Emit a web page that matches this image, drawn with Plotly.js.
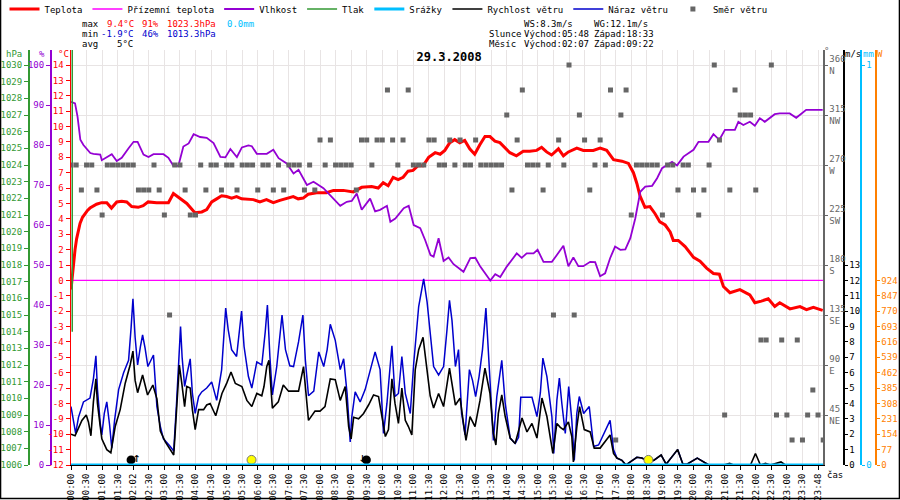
<!DOCTYPE html>
<html>
<head>
<meta charset="utf-8">
<script src="https://cdn.plot.ly/plotly-3.0.1.min.js"></script>
<style>
body { margin: 0; background: #fff; }
#graph-div { width: 900px; height: 500px; }
</style>
</head>
<body>
<div id="graph-div"></div>
<script>
// all times are hours from midnight on the chart scale
var tempTime = [0,0.04,0.08,0.13,0.18,0.24,0.29,0.37,0.45,0.53,0.61,0.72,0.82,0.98,1.15,1.3,1.47,1.63,1.79,1.95,2.16,2.32,2.48,2.75,3.13,3.29,3.45,3.72,3.98,4.2,4.36,4.52,4.68,4.84,5.0,5.16,5.32,5.48,5.86,6.07,6.28,6.5,6.71,6.93,7.14,7.3,7.46,7.62,7.89,8.21,8.43,8.75,9.07,9.34,9.66,9.87,10.03,10.19,10.35,10.51,10.67,10.83,10.99,11.15,11.31,11.49,11.7,11.86,12.01,12.17,12.33,12.49,12.65,12.81,12.97,13.13,13.3,13.46,13.62,13.78,13.94,14.1,14.31,14.53,14.74,14.96,15.12,15.28,15.44,15.66,15.82,15.98,16.25,16.46,16.78,17.0,17.21,17.43,17.7,17.91,18.07,18.18,18.28,18.44,18.6,18.76,18.92,19.09,19.25,19.35,19.51,19.73,20.0,20.21,20.42,20.64,20.83,20.96,21.17,21.49,21.81,21.97,22.18,22.4,22.61,22.77,23.1,23.42,23.63,23.85,24.15];
var temp = [-0.6,0.3,0.9,2.0,2.7,3.3,3.7,4.1,4.35,4.55,4.7,4.85,4.95,5.05,5.05,4.7,5.1,5.15,5.1,4.8,4.75,4.85,5.1,5.05,5.05,5.65,5.4,5.0,4.4,4.45,4.6,5.1,5.3,5.5,5.45,5.35,5.45,5.3,5.25,5.1,5.25,5.05,5.2,5.35,5.45,5.3,5.35,5.6,5.7,5.7,5.85,5.85,5.75,6.05,6.1,6.0,6.35,6.15,6.7,6.55,6.7,7.1,7.15,7.45,7.45,8.0,8.3,8.2,8.45,8.95,9.15,8.95,9.1,8.55,8.2,8.8,9.35,9.35,9.05,8.95,8.6,8.3,8.1,8.4,8.4,8.45,8.65,8.35,8.15,8.55,8.1,8.35,8.6,8.45,8.45,8.6,8.45,7.85,7.75,7.6,7.0,6.3,5.5,4.75,4.8,4.35,3.8,3.6,3.15,2.6,2.6,2.2,1.5,1.25,0.8,0.45,0.4,-0.4,-0.8,-0.6,-0.95,-1.45,-1.35,-1.2,-1.7,-1.45,-1.85,-1.7,-1.9,-1.75,-1.95];

var humTime = [0,0.13,0.21,0.3,0.4,0.62,0.72,0.94,0.99,1.31,1.47,1.63,1.85,2.01,2.14,2.33,2.49,2.65,2.97,3.13,3.29,3.45,3.61,3.78,3.94,4.15,4.36,4.58,4.8,4.96,5.12,5.33,5.49,5.7,5.81,5.97,6.29,6.5,6.67,6.93,7.15,7.31,7.58,7.79,8.11,8.33,8.65,8.86,9.02,9.18,9.34,9.61,9.77,9.93,10.15,10.26,10.42,10.69,10.85,11.01,11.22,11.38,11.55,11.65,11.81,11.97,12.13,12.29,12.61,12.83,12.99,13.15,13.47,13.63,13.79,14.0,14.32,14.48,14.64,14.86,14.99,15.18,15.45,15.61,15.82,15.98,16.14,16.3,16.46,16.68,16.84,17.0,17.16,17.32,17.48,17.65,17.81,17.97,18.13,18.29,18.45,18.67,18.83,18.99,19.2,19.31,19.47,19.68,20.0,20.16,20.48,20.64,20.83,21.01,21.33,21.44,21.6,21.81,21.97,22.13,22.29,22.61,22.77,23.09,23.3,23.62,24.15];
var hum = [90.8,90.4,87.1,81.3,80.0,78.0,77.8,77.6,76.2,77.7,76.0,76.8,79.2,80.8,80.8,77.6,77.0,77.7,77.7,76.8,74.8,74.8,79.6,80.4,82.7,82.0,81.8,80.5,77.0,76.9,79.0,77.0,79.4,79.9,79.7,77.8,77.8,78.8,76.7,75.4,72.9,73.8,70.0,70.8,69.2,67.5,64.8,65.8,66.0,67.9,63.8,66.6,63.4,63.8,64.8,60.8,61.6,64.2,64.8,60.0,59.2,56.2,52.5,52.1,56.7,51.0,51.9,50.2,48.3,51.7,51.8,49.6,46.1,47.7,47.0,49.6,52.9,51.8,52.9,52.9,53.8,50.8,50.8,52.5,54.8,49.7,51.9,49.7,49.7,50.8,50.7,47.2,47.9,51.7,54.6,53.8,53.9,56.7,61.7,68.3,69.6,69.8,71.7,74.2,75.4,75.8,74.9,77.1,78.8,80.8,80.8,82.7,81.3,83.8,83.8,85.8,85.0,85.8,84.8,86.7,85.8,87.7,87.9,87.9,86.8,88.8,88.8];

var pressTime = [0.04,0.04];
var press = [1032,1014];

var groundTime = [0,24.16];
var groundTemp = [0,0];
var rainTime = [0,24.16];
var rain = [0,0];

var windTime = [0,0.13,0.24,0.35,0.49,0.56,0.64,0.72,0.8,0.85,0.94,0.99,1.15,1.28,1.42,1.58,1.74,1.9,1.99,2.06,2.14,2.3,2.46,2.63,2.76,2.87,3.03,3.19,3.3,3.35,3.4,3.48,3.56,3.65,3.72,3.83,3.9,3.99,4.1,4.26,4.36,4.47,4.65,4.85,5.0,5.14,5.28,5.49,5.65,5.81,5.97,6.13,6.2,6.29,6.36,6.47,6.66,6.82,6.99,7.15,7.31,7.47,7.63,7.84,8.0,8.16,8.33,8.49,8.65,8.81,8.92,9.0,9.08,9.24,9.4,9.56,9.72,9.88,9.99,10.1,10.2,10.31,10.41,10.52,10.63,10.74,10.84,10.95,11.06,11.17,11.31,11.44,11.54,11.65,11.81,11.97,12.08,12.16,12.35,12.5,12.61,12.69,12.82,12.98,13.14,13.3,13.46,13.57,13.65,13.73,13.84,13.95,14.11,14.27,14.49,14.65,14.81,14.97,15.13,15.29,15.48,15.61,15.72,15.82,15.98,16.09,16.14,16.25,16.34,16.49,16.68,16.81,17.0,17.16,17.32,17.43,17.54,17.7,17.83,17.97,18.18,18.34,18.5,18.72,18.96,19.12,19.3,19.49,19.66,19.79,20.12,20.33,20.49,20.97,21.16,21.29,21.83,21.99,22.15,22.31,22.47,22.81,22.95,24.15];
var wind = [2.0,1.9,2.4,2.9,3.25,2.8,1.9,4.1,5.6,4.0,2.5,1.7,1.0,0.8,2.5,3.6,5.3,6.5,7.4,5.5,4.7,5.85,4.55,5.2,4.3,2.2,1.5,1.0,0.65,2.2,4.0,6.5,5.3,3.8,5.1,5.0,3.6,2.3,3.6,3.6,3.9,4.0,3.2,4.65,5.3,6.05,5.3,5.1,4.2,3.8,4.65,4.5,5.1,6.4,6.8,3.7,4.1,5.2,4.8,4.8,4.8,6.4,2.9,3.5,3.5,3.8,5.6,5.55,4.2,5.1,2.5,1.7,3.1,3.0,3.35,3.9,4.55,4.45,3.15,1.85,2.3,5.6,4.0,2.7,5.0,2.9,2.5,1.95,6.2,7.5,8.3,6.3,4.5,3.7,4.65,3.8,5.1,6.3,3.9,4.35,2.7,1.6,3.15,2.5,4.2,6.3,4.65,2.05,1.3,3.35,4.55,3.15,1.75,1.4,3.05,2.15,2.7,1.75,4.35,3.15,0.75,2.7,2.45,2.3,2.8,1.85,0.2,2.45,3.8,2.3,2.15,1.1,1.1,1.5,1.95,0.75,0.45,0.3,0.0,0.2,0.5,0.45,0.3,0.3,0.65,0.05,0.55,1.0,0.05,0.05,0.45,0.2,0.0,0.0,0.1,0.0,0.0,0.75,0.0,0.1,0.0,0.2,0.0,0.0];

var gustTime = [0,0.07,0.15,0.24,0.4,0.61,0.72,0.8,0.85,0.94,0.99,1.07,1.15,1.24,1.31,1.4,1.53,1.69,1.85,1.93,1.99,2.06,2.14,2.23,2.3,2.38,2.47,2.65,2.76,2.87,2.97,3.19,3.3,3.39,3.47,3.52,3.57,3.65,3.72,3.83,3.9,3.99,4.1,4.2,4.36,4.52,4.68,4.84,4.97,5.05,5.16,5.32,5.48,5.56,5.7,5.81,5.97,6.13,6.24,6.31,6.39,6.47,6.61,6.78,6.89,7.03,7.15,7.31,7.45,7.53,7.63,7.8,7.96,8.12,8.23,8.33,8.49,8.65,8.76,8.87,8.97,9.02,9.13,9.29,9.45,9.61,9.77,9.93,10.04,10.15,10.31,10.41,10.52,10.63,10.74,10.9,11.01,11.17,11.33,11.44,11.54,11.65,11.81,11.97,12.08,12.16,12.24,12.35,12.45,12.55,12.66,12.8,12.9,13.0,13.11,13.22,13.33,13.43,13.57,13.68,13.84,13.95,14.11,14.27,14.38,14.45,14.81,14.97,15.08,15.16,15.29,15.45,15.51,15.61,15.69,15.77,15.88,15.99,16.09,16.17,16.25,16.33,16.47,16.65,16.79,16.95,17.16,17.32,17.43,17.54,17.7,17.83,17.97,18.18,18.34,18.5,18.72,18.96,19.12,19.3,19.49,19.66,19.79,20.12,20.33,20.49,24.15];
var gust = [3.8,2.9,2.05,3.1,4.1,4.35,5.6,7.1,4.9,2.7,1.95,3.35,4.1,2.6,1.1,2.9,4.9,6.0,6.8,8.9,10.8,8.3,6.5,7.7,8.45,7.6,6.4,7.15,3.8,2.5,1.7,1.2,0.9,4.0,7.15,9.0,7.0,5.1,5.85,6.9,4.65,3.35,4.45,4.75,5.0,5.4,4.2,6.2,10.2,8.8,7.5,7.05,10.0,7.7,5.75,5.0,6.7,6.5,8.65,10.4,7.05,4.55,6.4,9.75,7.5,6.45,6.4,8.0,9.75,6.8,4.5,4.8,7.35,6.4,7.5,9.15,8.1,6.2,6.9,4.65,1.5,3.1,4.75,4.1,4.9,6.2,7.35,6.2,2.05,4.0,7.75,4.45,4.65,7.05,4.65,3.35,6.6,10.3,12.1,10.6,8.35,6.4,5.85,6.4,8.8,10.7,9.4,6.4,7.5,3.35,1.95,6.2,5.5,4.45,5.75,7.5,10.2,6.6,1.6,4.45,6.8,4.0,1.75,1.4,1.8,4.4,4.4,3.15,4.7,6.95,5.75,3.15,0.75,4.2,5.65,4.0,2.05,5.1,2.9,0.3,3.35,4.45,3.35,3.8,1.2,1.3,2.15,2.9,1.0,0.45,0.3,0.0,0.2,0.5,0.45,0.3,0.3,0.65,0.05,0.55,1.0,0.05,0.05,0.45,0.2,0.0,0.0];

// wind direction, one reading every 10 minutes
var dirMinutes = [0,10,20,30,40,50,60,70,80,90,100,110,120,130,140,150,160,170,180,190,200,210,220,230,240,250,260,270,280,290,300,310,320,330,340,350,360,370,380,390,400,410,420,430,440,450,460,470,480,490,500,510,520,530,540,550,560,570,580,590,600,610,620,630,640,650,660,670,680,690,700,710,720,730,740,750,760,770,780,790,800,810,820,830,840,850,860,870,880,890,900,910,920,930,940,950,960,970,980,990,1000,1010,1020,1030,1040,1050,1060,1070,1080,1090,1100,1110,1120,1130,1140,1150,1160,1170,1180,1190,1200,1210,1220,1230,1240,1250,1260,1270,1280,1290,1300,1310,1320,1330,1340,1350,1360,1370,1380,1390,1400,1410,1420,1430,1440,1450];
var windDir = [270,270,247.5,270,270,247.5,225,270,270,270,
  270,270,270,247.5,247.5,247.5,270,247.5,225,135,
  270,270,247.5,225,225,270,247.5,270,270,247.5,
  270,270,247.5,270,270,270,247.5,270,270,247.5,
  270,247.5,270,270,270,247.5,270,247.5,292.5,270,
  292.5,270,270,270,270,247.5,292.5,292.5,270,292.5,
  292.5,337.5,292.5,270,292.5,337.5,270,270,270,292.5,
  292.5,270,270,292.5,270,292.5,270,270,292.5,270,
  270,270,270,270,315,247.5,292.5,337.5,270,270,
  270,247.5,270,135,292.5,270,360,135,315,292.5,
  247.5,270,292.5,270,337.5,22.5,315,337.5,225,270,
  270,270,270,270,225,270,270,247.5,270,270,
  247.5,225,247.5,270,360,292.5,45,247.5,337.5,315,
  315,315,247.5,112.5,112.5,360,45,112.5,45,22.5,
  112.5,22.5,45,67.5,45,22.5];

// no solar radiation readings on this day
var radTime = [];
var rad = [];

var sunTime = [5.8, 18.55];
var moonDotTime = [1.93, 9.49];
var moonArrowTime = [2.117, 9.367];
var moonArrows = ["↑", "↓"];

var timeLabels = ["00:00","00:30","01:00","01:30","02:02","02:30","03:00","03:30","04:00","04:30","05:00","05:30","06:00","06:30","07:00","07:30","08:00","08:30","09:00","09:30","10:00","10:30","11:00","11:30","12:00","12:30","13:00","13:30","14:00","14:30","15:00","15:30","16:00","16:30","17:00","17:30","18:00","18:30","19:00","19:30","20:00","20:30","21:00","21:30","22:00","22:30","23:00","23:30","23:48"];
var tempTicks = [-12,-11,-10,-9,-8,-7,-6,-5,-4,-3,-2,-1,0,1,2,3,4,5,6,7,8,9,10,11,12,13,14];
var humTicks = [0,10,20,30,40,50,60,70,80,90,100];
var pressTicks = [1006,1007,1008,1009,1010,1011,1012,1013,1014,1015,1016,1017,1018,1019,1020,1021,1022,1023,1024,1025,1026,1027,1028,1029,1030];
var dirTicks = [45,90,135,180,225,270,315,360];
var dirNames = ["NE","E","SE","S","SW","W","NW","N"];
var speedTicks = [0,1,2,3,4,5,6,7,8,9,10,11,12,13];
var radTicks = [0,77,154,231,308,385,462,539,616,693,770,847,924];

var mono = "DejaVu Sans Mono";
var cRed = "#ff0000", cPurple = "#9400d3", cGreen = "#339933", cCyan = "#00bfff",
    cBlue = "#0000cc", cGray = "#666666", cOrange = "#ff8000", cMag = "#ff00ff";

// pixel helpers for text placed in the margins
function px(x) { return x / 900; }
function py(y) { return (465 - y) / 415; }
function txt(x, y, s, color, anchor) {
  return {x: px(x), y: py(y), xref: "paper", yref: "paper", text: s, showarrow: false,
    xanchor: anchor || "left", yanchor: "middle", font: {family: mono, size: 9, color: color}};
}

var dirHours = dirMinutes.map(function(m) { return m / 60; });
var tickHours = timeLabels.map(function(t, i) { return i * 0.5; });

var traces = [
  {x: radTime, y: rad, yaxis: "y7", mode: "lines", showlegend: false, line: {color: cOrange}},
  {x: dirHours, y: windDir, yaxis: "y4", name: "Směr větru", mode: "markers", legendrank: 8,
   marker: {symbol: "square", size: 5, color: cGray}},
  {x: humTime, y: hum, yaxis: "y2", name: "Vlhkost", mode: "lines", legendrank: 3,
   line: {color: cPurple, width: 1.8}},
  {x: pressTime, y: press, yaxis: "y3", name: "Tlak", mode: "lines", legendrank: 4,
   line: {color: cGreen, width: 1.5}},
  {x: groundTime, y: groundTemp, yaxis: "y", name: "Přízemní teplota", mode: "lines", legendrank: 2,
   line: {color: cMag, width: 1.3}},
  {x: rainTime, y: rain, yaxis: "y6", name: "Srážky", mode: "lines", legendrank: 5,
   line: {color: cCyan, width: 3}},
  {x: gustTime, y: gust, yaxis: "y5", name: "Náraz větru", mode: "lines", legendrank: 7,
   line: {color: cBlue, width: 1.5}},
  {x: windTime, y: wind, yaxis: "y5", name: "Rychlost větru", mode: "lines", legendrank: 6,
   line: {color: "#000000", width: 1.6}},
  {x: tempTime, y: temp, yaxis: "y", name: "Teplota", mode: "lines", legendrank: 1,
   line: {color: cRed, width: 3}},
  {x: sunTime, y: [0.33, 0.33], yaxis: "y5", mode: "markers", showlegend: false,
   marker: {size: 9, color: "#ffff00", line: {color: "#777", width: 1}}},
  {x: moonDotTime, y: [0.33, 0.33], yaxis: "y5", mode: "markers", showlegend: false,
   marker: {size: 9, color: "#000000"}},
  {x: moonArrowTime, y: [0.4, 0.4], yaxis: "y5", mode: "text", text: moonArrows, showlegend: false,
   textfont: {family: mono, size: 13, color: "#000"}}
];

function leftAxis(range, ticks, color, pos) {
  var a = {range: range, tickvals: ticks, ticktext: ticks.map(String), showgrid: false, zeroline: false,
    showline: true, linecolor: color, linewidth: 1.5, ticks: "outside", ticklen: 4, tickcolor: color,
    tickfont: {family: mono, size: 9, color: color}, fixedrange: true};
  if (pos !== undefined) { a.overlaying = "y"; a.anchor = "free"; a.position = pos; a.side = "left"; }
  return a;
}
function rightAxis(range, ticks, color, pos) {
  return {range: range, tickvals: ticks, showgrid: false, zeroline: false, overlaying: "y",
    anchor: "free", position: pos, side: "right", showline: true, linecolor: color, linewidth: 1.5,
    ticks: "outside", ticklen: 3, tickcolor: color, tickfont: {family: mono, size: 9, color: color},
    fixedrange: true};
}

var layout = {
  width: 900, height: 500,
  margin: {l: 0, r: 0, t: 50, b: 35, autoexpand: false},
  paper_bgcolor: "#ffffff", plot_bgcolor: "#ffffff",
  font: {family: mono, size: 9, color: "#000"},
  title: {text: "<b>29.3.2008</b>", font: {family: mono, size: 12, color: "#000"},
    x: 0.499, xref: "paper", xanchor: "center", y: 1 - 57 / 500, yref: "container", yanchor: "middle"},
  showlegend: true,
  legend: {orientation: "h", x: 0.005, xanchor: "left", y: py(9), yanchor: "middle",
    font: {family: mono, size: 9, color: "#000"}, itemwidth: 30, bgcolor: "rgba(0,0,0,0)"},
  xaxis: {domain: [71 / 900, 823 / 900], range: [0, 24.16], tickvals: tickHours, ticktext: timeLabels,
    tickangle: -90, ticks: "outside", ticklen: 4, tickcolor: "#000", showgrid: true, gridcolor: "#e8e4e4",
    showline: true, linecolor: "#000", zeroline: false, tickfont: {family: mono, size: 9, color: "#000"},
    fixedrange: true},
  yaxis: leftAxis([-12, 14.975], tempTicks, cRed),
  yaxis2: leftAxis([0, 103.75], humTicks, cPurple, 50 / 900),
  yaxis3: leftAxis([1006, 1030.9], pressTicks, cGreen, 28 / 900),
  yaxis4: {range: [0, 373.5], tickvals: dirTicks,
    ticktext: dirTicks.map(function(d, i) { return d + "<br>" + dirNames[i]; }),
    overlaying: "y", anchor: "x", side: "right", showgrid: true, gridcolor: "#e8e4e4", zeroline: false,
    showline: true, linecolor: cGray, linewidth: 1.5, ticks: "outside", ticklen: 3, tickcolor: cGray,
    tickfont: {family: mono, size: 9, color: cGray}, fixedrange: true},
  yaxis5: rightAxis([0, 26.975], speedTicks, "#000000", 843 / 900),
  yaxis6: rightAxis([0, 1.0375], [0, 1], cCyan, 860 / 900),
  yaxis7: rightAxis([0, 2077], radTicks, cOrange, 875 / 900),
  shapes: [
    {type: "line", xref: "paper", yref: "paper", x0: 0.0006, x1: 0.0006, y0: py(499), y1: py(0), line: {color: "#000", width: 1.5}},
    {type: "line", xref: "paper", yref: "paper", x0: 0.9994, x1: 0.9994, y0: py(499), y1: py(0), line: {color: "#000", width: 1.5}},
    {type: "line", xref: "paper", yref: "paper", x0: 0, x1: 1, y0: py(498.5), y1: py(498.5), line: {color: "#000", width: 1.5}}
  ],
  annotations: [
    txt(80, 24, "max", "#000"), txt(105, 24, "9.4°C", cRed), txt(140, 24, "91%", cRed),
    txt(165, 24, "1023.3hPa", cRed), txt(225, 24, "0.0mm", cCyan),
    txt(80, 34, "min", "#000"), txt(99, 34, "-1.9°C", cBlue), txt(140, 34, "46%", cBlue),
    txt(165, 34, "1013.3hPa", cBlue),
    txt(80, 44, "avg", "#000"), txt(115, 44, "5°C", "#000"),
    txt(522, 24, "WS:8.3m/s", "#000"), txt(592, 24, "WG:12.1m/s", "#000"),
    txt(487, 34, "Slunce", "#000"), txt(522, 34, "Východ:05:48", "#000"), txt(592, 34, "Západ:18:33", "#000"),
    txt(487, 44, "Měsíc", "#000"), txt(522, 44, "Východ:02:07", "#000"), txt(592, 44, "Západ:09:22", "#000"),
    txt(14, 54, "hPa", cGreen, "center"), txt(42, 54, "%", cPurple, "center"), txt(63, 54, "°C", cRed, "center"),
    txt(826, 51, "°", cGray, "center"), txt(853, 54, "m/s", "#000", "center"),
    txt(868, 54, "mm", cCyan, "center"), txt(880, 54, "W", cOrange, "center"),
    txt(835, 475, "čas", "#000", "center")
  ]
};

Plotly.newPlot(document.getElementById("graph-div"), traces, layout, {displayModeBar: false, staticPlot: true});
</script>
</body>
</html>
